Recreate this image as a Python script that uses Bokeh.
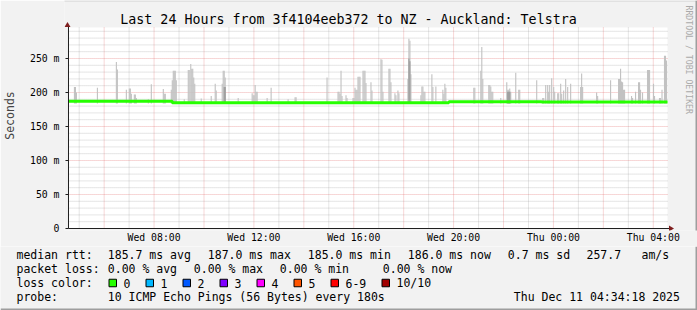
import math
from bokeh.plotting import figure
from bokeh.layouts import column
from bokeh.models import FixedTicker, Label, BoxAnnotation, PolyAnnotation, Range1d
from bokeh.core.properties import value
from bokeh.embed import file_html
from bokeh.resources import INLINE

# ---------------- data (hours since Wed 00:00, milliseconds) ----------------
x_start, x_end = 4.5717, 28.5717
y_top = 295.6

tick_hours = [8, 12, 16, 20, 24, 28]
tick_labels = ["Wed 08:00", "Wed 12:00", "Wed 16:00", "Wed 20:00", "Thu 00:00", "Thu 04:00"]
y_ticks = [0, 50, 100, 150, 200, 250]
y_tick_labels = ["0", "50 m", "100 m", "150 m", "200 m", "250 m"]
major_grid_hours = list(range(6, 29, 2))
minor_grid_hours = list(range(5, 29, 2))
major_grid_ms = [50, 100, 150, 200, 250]
minor_grid_ms = [v for v in range(10, 295, 10) if v % 50]

median_t = [4.5717, 8.73, 19.81, 23.53, 28.5717]
median_ms = [187.0, 185.0, 186.5, 186.0, 186.0]

smoke_t = [4.81, 4.85, 4.89, 5.73, 6.49, 6.53, 6.89, 7.01, 7.05, 7.09, 7.21, 7.25, 7.29, 7.77, 7.89, 8.37, 8.41, 8.45,
           8.69, 8.73, 8.77, 8.81, 8.85, 8.89, 9.21, 9.37, 9.41, 9.47, 9.51, 9.55, 9.59, 9.63, 9.89, 10.29, 10.45, 10.49,
           10.73, 10.77, 10.81, 10.85, 11.37, 11.93, 11.97, 12.01, 12.05, 12.09, 12.13, 12.53,
           12.69, 13.37, 13.65, 13.69, 14.93, 15.37, 15.41, 15.45, 15.49, 15.53, 15.69, 15.73, 15.97, 16.01, 16.05, 16.09,
           16.13, 16.17, 16.21, 16.25, 16.37, 16.41, 16.45, 16.49,
           16.69, 16.73, 17.09, 17.13, 17.17, 17.41, 17.45, 17.49, 17.65, 17.69, 17.77, 17.81, 18.17, 18.21, 18.25, 18.29,
           18.69, 18.73, 18.77, 18.81, 18.85, 19.13, 19.17, 19.29, 19.57, 19.61, 19.65, 19.69,
           20.81, 20.85, 21.09, 21.13, 21.17, 21.41, 21.45, 21.49, 21.53, 21.57, 21.89, 22.13, 22.17, 22.21, 22.25, 22.29,
           22.49, 22.61, 22.65, 23.33, 23.57, 23.61, 23.69, 23.77, 23.81, 23.85, 23.93, 24.01, 24.05, 24.17, 24.21, 24.29,
           24.33, 24.41, 24.49,
           24.57, 24.69, 25.09, 25.13, 25.17, 25.73, 25.77, 26.29, 26.61, 26.65, 26.69, 26.73, 26.77, 26.81, 26.85, 27.13,
           27.17, 27.29, 27.41, 27.45, 27.49, 27.57, 27.77, 27.81, 27.85, 28.01, 28.05, 28.25, 28.29, 28.35, 28.45, 28.49, 28.53]
smoke_top = [208, 208, 200, 207, 245, 234, 204, 206, 206, 198, 197, 197, 192, 190, 212, 205, 198, 198,
             204, 218, 232, 232, 232, 218, 190, 233, 233, 242, 235, 235, 222, 213, 191, 195, 213, 203,
             213, 232, 232, 222, 192, 199, 196, 196, 211, 201, 201, 192,
             207, 190, 193, 193, 222, 201, 201, 198, 232, 195, 196, 192, 192, 192, 207, 204,
             204, 223, 223, 223, 232, 232, 232, 214,
             215, 203, 249, 248, 201, 235, 235, 215, 199, 196, 203, 199, 220, 279, 276, 227,
             196, 209, 209, 201, 201, 227, 208, 209, 204, 198, 213, 207,
             207, 207, 232, 267, 220, 211, 211, 209, 201, 201, 192, 215, 204, 204, 206, 201,
             229, 204, 204, 218, 192, 192, 211, 211, 201, 211, 221, 208, 201, 199, 199, 213,
             198, 203, 220,
             208, 213, 208, 228, 208, 200, 195, 218, 220, 220, 235, 216, 215, 204, 204, 195,
             192, 201, 215, 215, 204, 200, 233, 233, 233, 213, 195, 192, 192, 204, 254, 254, 247]
smoke_base = 184.0
dark_t = [10.81, 10.85, 18.21, 18.25, 22.17, 22.21, 22.25]
dark_top = [208, 208, 250, 246, 201, 201, 201]

title_text = "Last 24 Hours from 3f4104eeb372 to NZ - Auckland: Telstra"
rtt_stats = ["185.7 ms avg", "187.0 ms max", "185.0 ms min", "186.0 ms now", "0.7 ms sd", "257.7", "am/s"]
loss_stats = ["0.00 % avg", "0.00 % max", "0.00 % min", "0.00 % now"]
loss_names = ["0", "1", "2", "3", "4", "5", "6-9", "10/10"]
loss_colors = ["#26ff00", "#00b8ff", "#0059ff", "#7e00ff", "#ff00ff", "#ff5500", "#ff0000", "#a10000"]
probe_text = "10 ICMP Echo Pings (56 Bytes) every 180s"
date_text = "Thu Dec 11 04:34:18 2025"

# ---------------- layout constants ----------------
W = 697
H_MAIN, H_LEG = 246, 64
MONO = "DejaVu Sans Mono"
PX_PER_H = 25.0      # pixels per hour
PX_PER_MS = 0.68     # pixels per millisecond
PLOT_L, PLOT_B = 67, 228   # canvas position of plot origin
FRAME_L, FRAME_B = 63, 230
BG = "#f2f2f2"

fx0 = x_start - (PLOT_L - FRAME_L) / PX_PER_H
fx1 = x_start + (W - PLOT_L) / PX_PER_H
fy0 = -(FRAME_B - PLOT_B) / PX_PER_MS
fy1 = PLOT_B / PX_PER_MS

p = figure(width=W, height=H_MAIN, x_range=Range1d(fx0, fx1), y_range=Range1d(fy0, fy1),
           output_backend="svg", toolbar_location=None,
           min_border_left=FRAME_L, min_border_right=0, min_border_top=0, min_border_bottom=H_MAIN - FRAME_B,
           background_fill_color=BG, border_fill_color=BG, outline_line_color=None)
p.frame_align = False
p.grid.visible = False

# axes: labels only (lines drawn below)
p.xaxis.ticker = FixedTicker(ticks=tick_hours)
p.xaxis.major_label_overrides = dict(zip(tick_hours, tick_labels))
p.yaxis.ticker = FixedTicker(ticks=y_ticks)
p.yaxis.major_label_overrides = dict(zip(y_ticks, y_tick_labels))
for ax in (p.xaxis[0], p.yaxis[0]):
    ax.axis_line_color = None
    ax.major_tick_line_color = None
    ax.minor_tick_line_color = None
    ax.major_tick_in = 0
    ax.major_tick_out = 0
    ax.major_label_text_font = MONO
    ax.major_label_text_font_size = "9.8px"
    ax.major_label_text_color = "black"
p.xaxis.major_label_standoff = 1
p.yaxis.major_label_standoff = 5
p.yaxis.axis_label = "Seconds"
p.yaxis.axis_label_text_font = MONO
p.yaxis.axis_label_text_font_size = "11.5px"
p.yaxis.axis_label_text_font_style = "normal"
p.yaxis.axis_label_standoff = 10

# plot canvas (white) and grid
p.quad(left=[x_start], right=[x_end], bottom=[0], top=[y_top], fill_color="white", line_color=None)
p.segment(x0=minor_grid_hours, x1=minor_grid_hours, y0=0, y1=y_top,
          line_color="#8f8f8f", line_alpha=0.45, line_dash="1 1", line_width=1)
p.segment(x0=x_start, x1=x_end, y0=minor_grid_ms, y1=minor_grid_ms,
          line_color="#8f8f8f", line_alpha=0.45, line_dash="1 1", line_width=1)
p.segment(x0=major_grid_hours, x1=major_grid_hours, y0=0, y1=y_top,
          line_color="#de4f4f", line_alpha=0.45, line_dash="1 1", line_width=1)
p.segment(x0=x_start, x1=x_end, y0=major_grid_ms, y1=major_grid_ms,
          line_color="#de4f4f", line_alpha=0.45, line_dash="1 1", line_width=1)

# smoke and median
p.vbar(x=smoke_t, top=smoke_top, bottom=smoke_base, width=0.045, fill_color="#c2c2c2", line_color=None)
p.vbar(x=dark_t, top=dark_top, bottom=smoke_base, width=0.045, fill_color="#9a9a9a", line_color=None)
p.step(median_t, median_ms, mode="after", line_width=3, line_color="#26ff00")

# axis lines and y ticks
p.segment(x0=[x_start, x_start], y0=[0, 0], x1=[x_end + 1.5 / PX_PER_H, x_start], y1=[0, y_top + 1 / PX_PER_MS],
          line_color="#1f1f1f", line_width=1)
p.segment(x0=x_start - 3 / PX_PER_H, x1=x_start, y0=y_ticks, y1=y_ticks, line_color="#1f1f1f", line_width=1)


def lab(x, y, t, size="11.5px", color="black", align="left", angle=0.0):
    p.add_layout(Label(x=x, y=y, x_units="canvas", y_units="canvas", text=t,
                       text_font=MONO, text_font_size=size, text_color=color,
                       text_align=align, text_baseline="middle", angle=angle))


lab(348, 19, title_text, size="13.3px", align="center")
lab(688.5, 5, "RRDTOOL / TOBI OETIKER", size="8.2px", color="#aaaaaa", angle=-math.pi / 2)

# arrow heads
p.add_layout(PolyAnnotation(xs=[64, 70, 67], ys=[26.5, 26.5, 21.5], xs_units="canvas", ys_units="canvas",
                            fill_color="#7f1f1f", fill_alpha=1, line_color=None))
p.add_layout(PolyAnnotation(xs=[668.5, 668.5, 673.5], ys=[225, 231, 228], xs_units="canvas",
                            ys_units="canvas", fill_color="#7f1f1f", fill_alpha=1, line_color=None))
# frame shading (top light, right dark)
for l, r, t, b, c in [(0, W, 0, 1, "#cfcfcf"), (W - 2, W, 0, H_MAIN, "#9e9e9e")]:
    p.add_layout(BoxAnnotation(left=l, right=r, top=t, bottom=b,
                               left_units="canvas", right_units="canvas", top_units="canvas", bottom_units="canvas",
                               fill_color=c, fill_alpha=1, line_color=None))

# ---------------- legend strip ----------------
q = figure(width=W, height=H_LEG, x_range=Range1d(0, W), y_range=Range1d(H_LEG, 0),
           output_backend="svg", toolbar_location=None, x_axis_location=None, y_axis_location=None,
           min_border=0, min_border_left=0, min_border_right=0, min_border_top=0, min_border_bottom=0,
           background_fill_color=BG, border_fill_color=BG, outline_line_color=None)
q.frame_align = False
q.grid.visible = False

r1, r2, r3, r4 = 8, 22, 36.5, 50
tx, ty, tt = [], [], []


def add(x, y, t):
    tx.append(x); ty.append(y); tt.append(t)


add(16, r1, "median rtt:")
for xx, t in zip([107.3, 207.3, 307.3, 407.3, 507.3, 586, 641], rtt_stats):
    add(xx, r1, t)
add(16, r2, "packet loss:")
for xx, t in zip([107.3, 193.3, 279.3, 382.3], loss_stats):
    add(xx, r2, t)
add(16, r3, "loss color:")
sq_x = [108.5, 145.5, 182.5, 219.5, 256.5, 293.5, 330.5, 381.5]
for sx, name in zip(sq_x, loss_names):
    add(sx + 14.5, r3, name)
add(16, r4, "probe:")
add(107.3, r4, probe_text)
add(513.3, r4, date_text)

q.quad(left=sq_x, right=[s + 7.5 for s in sq_x], top=r3 - 3.75, bottom=r3 + 3.75,
       fill_color=loss_colors, line_color="black", line_width=1)
q.text(x=tx, y=ty, text=tt, text_font=value(MONO), text_font_size="11.5px", text_color="black",
       text_align="left", text_baseline="middle")
q.quad(left=[W - 2, 0], right=[W, W], top=[0, H_LEG - 2], bottom=[H_LEG, H_LEG],
       fill_color="#9e9e9e", line_color=None)

layout = column(p, q, spacing=0)
open("out.html", "w").write(file_html(layout, INLINE))
